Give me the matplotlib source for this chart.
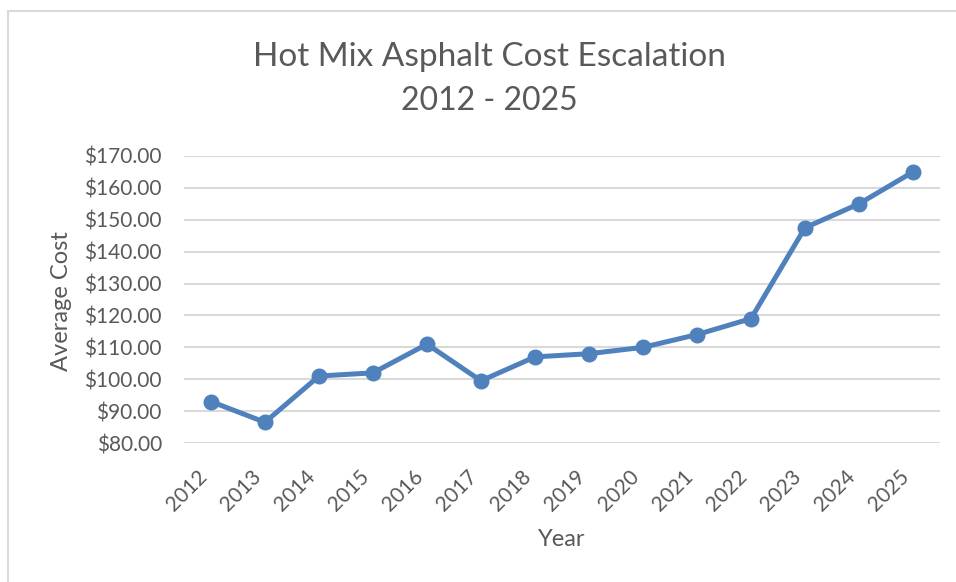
import numpy as np
import matplotlib
matplotlib.use("Agg")
import matplotlib.pyplot as plt
from matplotlib.patches import Rectangle

years = ["2012", "2013", "2014", "2015", "2016", "2017", "2018",
         "2019", "2020", "2021", "2022", "2023", "2024", "2025"]
avg_cost = [93.0, 86.5, 101.0, 102.0, 111.0, 99.5, 107.0,
            108.0, 110.0, 114.0, 119.0, 147.5, 155.0, 165.0]
y_ticks = [80, 90, 100, 110, 120, 130, 140, 150, 160, 170]

text_color = "#595959"
line_color = "#4F81BD"
grid_color = "#D9D9D9"

plt.rcParams["font.family"] = ["Lato", "DejaVu Sans"]

fig = plt.figure(figsize=(9.56, 5.82), dpi=100)
fig.patches.append(Rectangle((8 / 956, -0.1), 1.2, 1 - 11 / 582 + 0.1,
                             transform=fig.transFigure, fill=False,
                             edgecolor="#D9D9D9", linewidth=1.5))

ax = fig.add_axes([184 / 956, 1 - 443 / 582, (940 - 184) / 956, (443 - 156) / 582])
x = np.arange(len(years))
ax.plot(x, avg_cost, color=line_color, linewidth=3.6, marker="o",
        markersize=10.5, solid_capstyle="round", zorder=3)

ax.set_xlim(-0.5, len(years) - 0.5)
ax.set_ylim(80, 170)
ax.set_yticks(y_ticks)
ax.set_yticklabels([f"${v:.2f}" for v in y_ticks])
ax.set_xticks(x)
ax.set_xticklabels(years, rotation=45, ha="right")
ax.tick_params(axis="both", length=0, labelsize=15, colors=text_color)
ax.tick_params(axis="y", pad=16)
ax.tick_params(axis="x", pad=17)
ax.grid(axis="y", color=grid_color, linewidth=1.5)
ax.set_axisbelow(True)
for s in ax.spines.values():
    s.set_visible(False)

fig.text(62 / 956, 1 - 301 / 582, "Average Cost", rotation=90, ha="center",
         va="center", fontsize=17, color=text_color)
fig.text(562 / 956, 1 - 540 / 582, "Year", ha="center", va="center",
         fontsize=17, color=text_color)
fig.text(489 / 956, 1 - 57 / 582, "Hot Mix Asphalt Cost Escalation",
         ha="center", va="center", fontsize=24, color=text_color)
fig.text(489 / 956, 1 - 101 / 582, "2012 - 2025",
         ha="center", va="center", fontsize=23, color=text_color)

fig.savefig("out.png", dpi=100)
